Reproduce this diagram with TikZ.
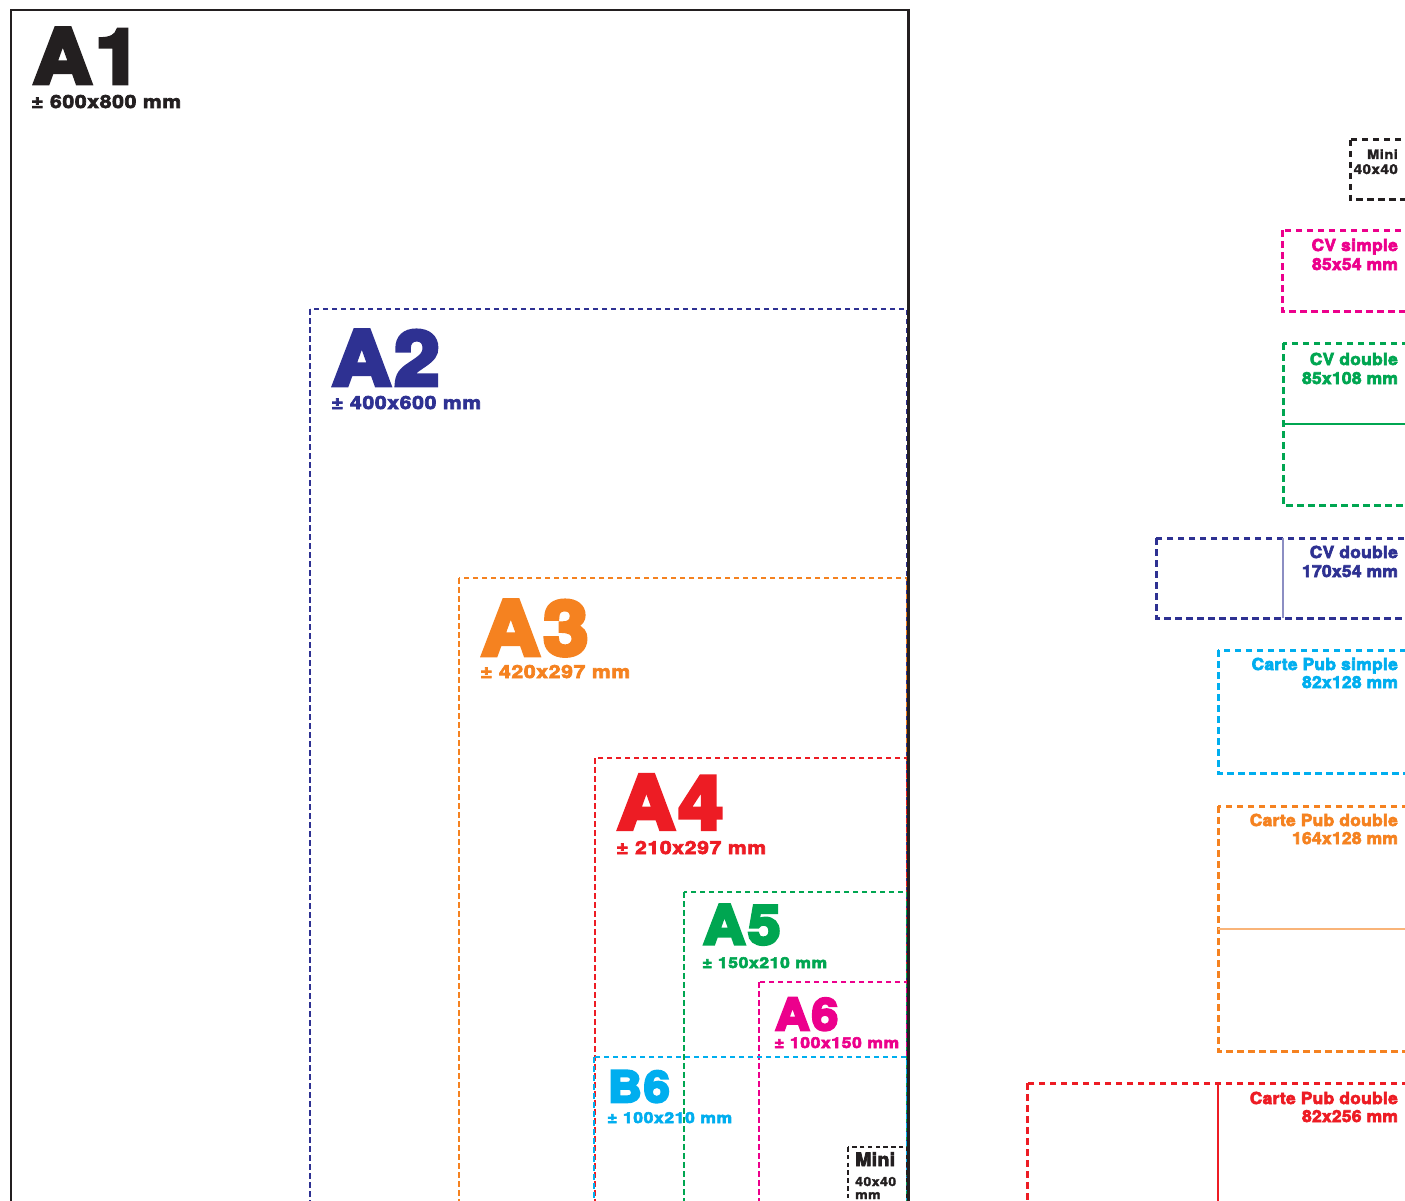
\documentclass[tikz,border=0pt]{standalone}
\usepackage{fontspec}
\newfontfamily\hvA{TeX Gyre Heros}[FakeStretch=1.08, FakeBold=6, LetterSpace=5]
\newfontfamily\hvB{TeX Gyre Heros}[FakeStretch=1.17, FakeBold=4, LetterSpace=4]
\newfontfamily\hvC{TeX Gyre Heros}[FakeStretch=1.05, FakeBold=4, LetterSpace=2]
\newfontfamily\hvD{TeX Gyre Heros}[FakeStretch=1.12, FakeBold=2.5, LetterSpace=4]
\definecolor{cnavy}{HTML}{2E3192}
\definecolor{corange}{HTML}{F58220}
\definecolor{cred}{HTML}{ED1C24}
\definecolor{cgreen}{HTML}{00A651}
\definecolor{cmag}{HTML}{EC008C}
\definecolor{ccyan}{HTML}{00AEEF}
\definecolor{cdark}{HTML}{231F20}
\tikzset{
  lbox/.style={line width=2.6pt, dash pattern=on 5.5pt off 3.5pt},
  rbox/.style={line width=3pt, dash pattern=on 6.5pt off 4.5pt},
  bigl/.style={anchor=base west, inner sep=0pt, font={\hvA\bfseries\fontsize{#1}{#1}\selectfont}},
  smalll/.style={anchor=base west, inner sep=0pt, font={\hvB\bfseries\fontsize{#1}{#1}\selectfont}},
  tinyl/.style={inner sep=0pt, font={\hvD\bfseries\fontsize{#1}{#1}\selectfont}},
  rlab/.style={anchor=base east, inner sep=0pt, font={\hvC\bfseries\fontsize{#1}{#1}\selectfont}},
}
\begin{document}
\begin{tikzpicture}[x=1pt,y=-1pt]
\useasboundingbox (0,0) rectangle (1405,1201);
\clip (0,0) rectangle (1405,1201);
\fill[white] (0,0) rectangle (1405,1201);

% A1 frame (top and left)
\draw[cdark, line width=2.2pt] (11,1260) -- (11,10) -- (908,10);

% nested left boxes
\draw[lbox, cnavy]   (310,309) rectangle (907,1260);
\draw[lbox, corange] (459,578) rectangle (907,1260);
\draw[lbox, cred]    (595,758) rectangle (907,1260);
\draw[lbox, cgreen]  (684,892) rectangle (907,1260);
\draw[lbox, cmag]    (759,982) rectangle (907,1260);
\draw[lbox, ccyan]   (594,1057) rectangle (907,1260);
\draw[cdark, line width=2.6pt, dash pattern=on 4.5pt off 3.3pt] (848,1147) rectangle (907,1260);

% A1 right edge
\draw[cdark, line width=3pt] (908,9) -- (908,1260);

% left labels
\node[bigl=75, text=cdark] (a1) at (33,83) {A1};
\node[smalll=18, text=cdark] (a1s) at (31,108) {± 600x800 mm};
\node[bigl=75, text=cnavy] (a2) at (332,385) {A2};
\node[smalll=18, text=cnavy] (a2s) at (331,409) {± 400x600 mm};
\node[bigl=75, text=corange] (a3) at (481,655) {A3};
\node[smalll=18, text=corange] (a3s) at (480,678) {± 420x297 mm};
\node[bigl=74, text=cred] (a4) at (617,829) {A4};
\node[smalll=18, text=cred] (a4s) at (616,854) {± 210x297 mm};
\node[bigl=54, text=cgreen] (a5) at (703,944) {A5};
\node[smalll=15, text=cgreen] (a5s) at (702,968) {± 150x210 mm};
\node[bigl=44, text=cmag] (a6) at (775,1030) {A6};
\node[smalll=15, text=cmag] (a6s) at (774,1048) {± 100x150 mm};
\node[bigl=43, text=ccyan] (b6) at (608,1102) {B6};
\node[smalll=15, text=ccyan] (b6s) at (607,1123) {± 100x210 mm};
\node[anchor=base west, inner sep=0pt, font={\hvC\bfseries\fontsize{18.5}{18.5}\selectfont}, text=cdark] (mini1) at (855,1166) {Mini};
\node[tinyl=12.5, anchor=base west, text=cdark] (mini1s) at (855,1186) {40x40};
\node[tinyl=12.5, anchor=base west, text=cdark] (mini1m) at (855,1199) {mm};

% right panel boxes
\draw[rbox, cdark]   (1350,140) rectangle (1420,200);
\draw[rbox, cmag]    (1282,230) rectangle (1420,311);
\draw[rbox, cgreen]  (1283,343) rectangle (1420,505);
\draw[cgreen, line width=1.2pt] (1283,424) -- (1420,424);
\draw[rbox, cnavy]   (1156,538) rectangle (1420,618);
\draw[cnavy!55, line width=1.8pt] (1283,538) -- (1283,618);
\draw[rbox, ccyan]   (1218,650) rectangle (1420,773);
\draw[rbox, corange] (1218,806) rectangle (1420,1051);
\draw[corange!60, line width=1.8pt] (1218,929) -- (1420,929);
\draw[rbox, cred]    (1027,1083) rectangle (1420,1260);
\draw[cred, line width=1.2pt] (1218,1083) -- (1218,1260);

% right panel labels
\node[tinyl=13, anchor=base east, text=cdark] (mini2) at (1398,159) {Mini};
\node[tinyl=13.5, anchor=base east, text=cdark] (mini2s) at (1398,174) {40x40};
\node[rlab=16.5, text=cmag] (cvs) at (1398,251) {CV simple};
\node[rlab=16.5, text=cmag] (cvss) at (1398,270) {85x54 mm};
\node[rlab=16.5, text=cgreen] (cvd) at (1398,365) {CV double};
\node[rlab=16.5, text=cgreen] (cvds) at (1398,384) {85x108 mm};
\node[rlab=16.5, text=cnavy] (cvd2) at (1398,558) {CV double};
\node[rlab=16.5, text=cnavy] (cvd2s) at (1398,577) {170x54 mm};
\node[rlab=16.5, text=ccyan] (cps) at (1398,670) {Carte Pub simple};
\node[rlab=16.5, text=ccyan] (cpss) at (1398,688) {82x128 mm};
\node[rlab=16.5, text=corange] (cpd) at (1398,826) {Carte Pub double};
\node[rlab=16.5, text=corange] (cpds) at (1398,844) {164x128 mm};
\node[rlab=16.5, text=cred] (cpd2) at (1398,1104) {Carte Pub double};
\node[rlab=16.5, text=cred] (cpd2s) at (1398,1122) {82x256 mm};
\end{tikzpicture}
\end{document}
